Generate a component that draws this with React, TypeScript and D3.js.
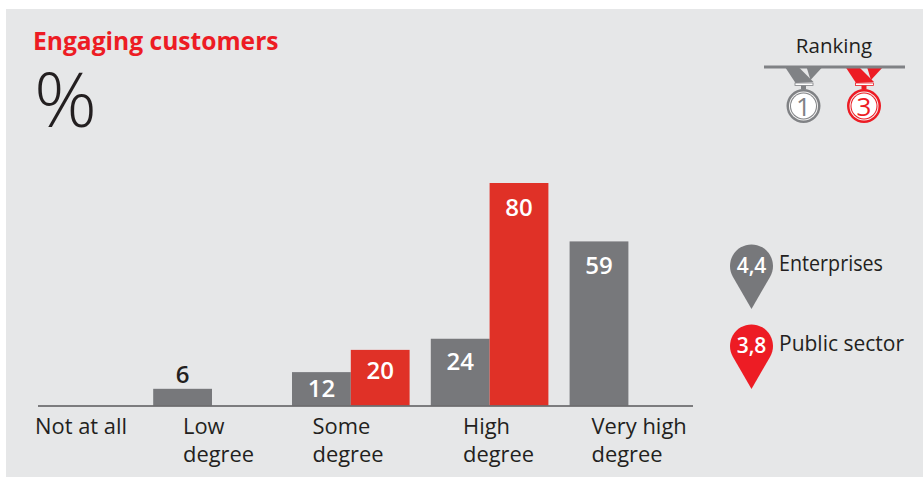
import React from "react";
import * as d3 from "d3";

const categories = ["Not at all", "Low degree", "Some degree", "High degree", "Very high degree"];
const labelLines = [["Not at all"], ["Low", "degree"], ["Some", "degree"], ["High", "degree"], ["Very high", "degree"]];
const seriesNames = ["Enterprises", "Public sector"];
const enterprises = [null, 6, 12, 24, 59];
const publicSector = [null, null, 20, 80, null];
const averages = ["4,4", "3,8"];
const rankings = [1, 3];

const W = 923, H = 477;
const GREY = "#77787b", BAR_RED = "#e03127", RED = "#ed1c24", BG = "#e6e7e8", INK = "#231f20";
const FONT = "'Open Sans', sans-serif";
const labelX = [35, 183, 312.5, 463, 591.5];
const legendWidths = [104, 125];

const y = d3.scaleLinear().domain([0, 80]).range([405.5, 183]);
const x = d3.scaleBand().domain(categories).range([14.4, 708.4]);
const sub = d3.scaleBand().domain(seriesNames).range([0, 117.6]);

function pinPath(cx: number, cy: number, r: number, tip: number) {
  const a = 0.52;
  const lx = cx - r * Math.cos(a), rx = cx + r * Math.cos(a), by = cy + r * Math.sin(a);
  return `M${lx},${by} A${r},${r} 0 1 1 ${rx},${by} L${cx},${tip} Z`;
}

function insideOffset(h: number) {
  if (h < 40) return 25;
  if (h < 60) return 29;
  if (h < 100) return 31;
  return 33;
}

function Medal({ cx, color, n }: { cx: number; color: string; n: number }) {
  const line = d3.line();
  const cy = 106;
  return (
    <g>
      <path d={line([[cx - 18.5, 67], [cx - 5, 67], [cx + 10, 82], [cx - 8, 83]])!} fill={color} />
      <path d={line([[cx + 3, 67], [cx + 19, 67], [cx + 7, 80]])!} fill={color} />
      <rect x={cx - 8.5} y={83} width={18} height={2.5} fill="#fff" stroke={color} strokeWidth={0.8} />
      <rect x={cx - 2.5} y={85.5} width={5} height={4} fill={color} />
      <circle cx={cx} cy={cy} r={17} fill={color} />
      <circle cx={cx} cy={cy} r={14.5} fill="#f4f4f4" />
      <circle cx={cx} cy={cy} r={13.5} fill={color} />
      <circle cx={cx} cy={cy} r={12.5} fill="#fff" />
      <text x={cx} y={115.5} textAnchor="middle" fontSize={26} fill={color} fontFamily={FONT}>{n}</text>
    </g>
  );
}

export default function App() {
  const values = [enterprises, publicSector];
  const pins = [266, 346];
  return (
    <svg width={W} height={H} viewBox={`0 0 ${W} ${H}`} style={{ position: "fixed", left: 0, top: 0, background: "#fff" }} fontFamily={FONT}>
      <rect x={6} y={9} width={W - 6} height={H - 9} fill={BG} />
      <text x={33} y={50} fontSize={24.6} fontWeight={700} fill={RED}>Engaging customers</text>
      <text x={34} y={127} fontSize={75} fill={INK} fontWeight={300} textLength={63} lengthAdjust="spacingAndGlyphs">%</text>

      {seriesNames.map((s, si) => values[si].map((v, i) => {
        if (v == null) return null;
        const bx = x(categories[i])! + sub(s)!;
        const h = y(0) - y(v);
        const big = h > 22;
        return (
          <g key={s + i}>
            <rect x={bx} y={y(v)} width={sub.bandwidth()} height={h} fill={si === 0 ? GREY : BAR_RED} />
            <text x={bx + sub.bandwidth() / 2} y={big ? y(v) + insideOffset(h) : y(v) - 6} textAnchor="middle" fontSize={24} fontWeight={600} fill={big ? "#fff" : INK}>{v}</text>
          </g>
        );
      }))}
      <line x1={38} x2={693} y1={406} y2={406} stroke="#58595b" strokeWidth={1.5} />
      {labelLines.map((ls, i) => (
        <text key={i} fontSize={21.9} fill={INK}>
          {ls.map((l, j) => <tspan key={j} x={labelX[i]} y={434 + j * 28}>{l}</tspan>)}
        </text>
      ))}

      <text x={834} y={53} textAnchor="middle" fontSize={20.5} fill={INK}>Ranking</text>
      {rankings.map((n, i) => <Medal key={n} cx={[803.5, 864][i]} color={i === 0 ? "#808285" : RED} n={n} />)}
      <line x1={764} x2={905} y1={67} y2={67} stroke="#808285" strokeWidth={3} />

      {seriesNames.map((s, i) => (
        <g key={s}>
          <path d={pinPath(751.5, pins[i], 21.5, pins[i] + 43)} fill={i === 0 ? GREY : RED} />
          <text x={751.5} y={pins[i] + 7} textAnchor="middle" fontSize={21} fontWeight={600} fill="#fff">{averages[i]}</text>
          <text x={779} y={pins[i] + 5} fontSize={21} fill={INK} textLength={legendWidths[i]} lengthAdjust="spacingAndGlyphs">{s}</text>
        </g>
      ))}
    </svg>
  );
}
